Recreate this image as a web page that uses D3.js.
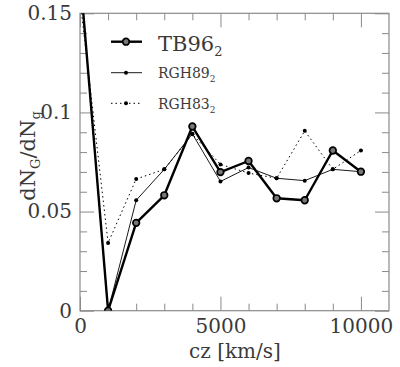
<!DOCTYPE html>
<html>
<head>
<meta charset="utf-8">
<script src="https://cdn.jsdelivr.net/npm/d3@7"></script>
<style>
  body { margin: 0; background: #fff; }
  text { font-family: "DejaVu Serif", serif; }
</style>
</head>
<body>
<div id="vis"></div>
<script>
const width = 400, height = 367;
const margin = {top: 13.3, right: 11, bottom: 56.3, left: 80};

// cz bins [km/s]
const czValues = [0, 1000, 2000, 3000, 4000, 5000, 6000, 7000, 8000, 9000, 10000];
// dN_G/dN_g for each catalogue
const tb96  = [0.17, 0, 0.0443, 0.0582, 0.0929, 0.0699, 0.0755, 0.0567, 0.0557, 0.0808, 0.0701];
const rgh89 = [0.17, 0, 0.0557, 0.0713, 0.0892, 0.0652, 0.0722, 0.0668, 0.0656, 0.0713, 0.0701];
const rgh83 = [0.157, 0.0342, 0.0664, 0.0713, 0.089, 0.0738, 0.0694, 0.0668, 0.0907, 0.0713, 0.0808];
const seriesNames = ["TB96", "RGH89", "RGH83"];
const xMajorTicks = [0, 5000, 10000];
const xMinorTicks = [1000, 2000, 3000, 4000, 6000, 7000, 8000, 9000];
const yMajorTicks = [0, 0.05, 0.1, 0.15];
const yMinorTicks = [0.01, 0.02, 0.03, 0.04, 0.06, 0.07, 0.08, 0.09, 0.11, 0.12, 0.13, 0.14];

const series = [
  {name: seriesNames[0], values: tb96, width: 2.4, dash: null, big: true, fontSize: 21},
  {name: seriesNames[1], values: rgh89, width: 0.9, dash: null, big: false, fontSize: 14},
  {name: seriesNames[2], values: rgh83, width: 1, dash: "1.5,3", big: false, fontSize: 14}
];

const svg = d3.select("#vis").append("svg")
  .attr("width", width).attr("height", height);

const x = d3.scaleLinear().domain([0, 11000]).range([margin.left, width - margin.right]);
const y = d3.scaleLinear().domain([0, 0.15]).range([height - margin.bottom, margin.top]);

const axisColor = "#8a8a8a";
const textColor = "#3a3a3a";

svg.append("defs").append("clipPath").attr("id", "plot-clip")
  .append("rect")
  .attr("x", x(0)).attr("y", y(0.15))
  .attr("width", x(11000) - x(0)).attr("height", y(0) - y(0.15));

// axes (ticks point inward on all four sides)
function styleAxis(g) {
  g.select(".domain").remove();
  g.selectAll(".tick line").attr("stroke", axisColor).attr("stroke-width", 1);
  g.selectAll(".tick text").attr("fill", textColor).style("font-size", "20px");
}

svg.append("g").attr("transform", `translate(0,${y(0)})`)
  .call(d3.axisBottom(x).tickValues(xMajorTicks).tickSize(-14).tickPadding(8).tickFormat(d3.format("d")))
  .call(styleAxis);
svg.append("g").attr("transform", `translate(0,${y(0)})`)
  .call(d3.axisBottom(x).tickValues(xMinorTicks).tickSize(-7).tickFormat(""))
  .call(styleAxis);
svg.append("g").attr("transform", `translate(0,${y(0.15)})`)
  .call(d3.axisTop(x).tickValues(xMajorTicks).tickSize(-14).tickFormat(""))
  .call(styleAxis);
svg.append("g").attr("transform", `translate(0,${y(0.15)})`)
  .call(d3.axisTop(x).tickValues(xMinorTicks).tickSize(-7).tickFormat(""))
  .call(styleAxis);

svg.append("g").attr("transform", `translate(${x(0)},0)`)
  .call(d3.axisLeft(y).tickValues(yMajorTicks).tickSize(-14).tickPadding(8).tickFormat(d => String(d)))
  .call(styleAxis);
svg.append("g").attr("transform", `translate(${x(0)},0)`)
  .call(d3.axisLeft(y).tickValues(yMinorTicks).tickSize(-7).tickFormat(""))
  .call(styleAxis);
svg.append("g").attr("transform", `translate(${x(11000)},0)`)
  .call(d3.axisRight(y).tickValues(yMajorTicks).tickSize(-14).tickFormat(""))
  .call(styleAxis);
svg.append("g").attr("transform", `translate(${x(11000)},0)`)
  .call(d3.axisRight(y).tickValues(yMinorTicks).tickSize(-7).tickFormat(""))
  .call(styleAxis);

svg.append("rect")
  .attr("x", x(0)).attr("y", y(0.15))
  .attr("width", x(11000) - x(0)).attr("height", y(0) - y(0.15))
  .attr("fill", "none").attr("stroke", axisColor).attr("stroke-width", 1.2);

// lines and markers
const plot = svg.append("g").attr("clip-path", "url(#plot-clip)");
const line = d3.line().x((d, i) => x(czValues[i])).y(d => y(d));

function marker(sel, s) {
  sel.attr("r", s.big ? 3.3 : 2)
    .attr("fill", s.big ? "#777" : "#000")
    .attr("stroke", s.big ? "#000" : "none")
    .attr("stroke-width", 1.7);
}

// draw thin ones first so the thick series sits on top
[series[2], series[1], series[0]].forEach(s => {
  plot.append("path")
    .datum(s.values)
    .attr("d", line)
    .attr("fill", "none")
    .attr("stroke", "#000")
    .attr("stroke-width", s.width)
    .attr("stroke-dasharray", s.dash)
    .attr("stroke-linejoin", "round");

  plot.selectAll(null)
    .data(s.values)
    .join("circle")
    .attr("cx", (d, i) => x(czValues[i]))
    .attr("cy", d => y(d))
    .call(marker, s);
});

// legend
const legendRows = [41.7, 72.7, 103.3];
const legend = svg.append("g");
series.forEach((s, i) => {
  const row = legend.append("g").attr("transform", `translate(0,${legendRows[i]})`);
  row.append("line")
    .attr("x1", 111).attr("x2", 142).attr("y1", 0).attr("y2", 0)
    .attr("stroke", "#000").attr("stroke-width", s.width)
    .attr("stroke-dasharray", s.dash);
  row.append("circle")
    .attr("cx", 126).attr("cy", 0)
    .call(marker, s);
  const t = row.append("text")
    .attr("x", 158).attr("y", s.big ? 9.3 : 5.6)
    .attr("fill", textColor)
    .style("font-size", s.fontSize + "px");
  t.append("tspan").text(s.name);
  t.append("tspan").attr("dy", s.big ? 5 : 4)
    .style("font-size", (s.big ? 13 : 9) + "px").text("2");
});

// axis titles
svg.append("text")
  .attr("x", 235).attr("y", 358)
  .attr("text-anchor", "middle")
  .attr("fill", textColor)
  .style("font-size", "20px")
  .text("cz [km/s]");

const yTitle = svg.append("text")
  .attr("transform", "translate(35,156) rotate(-90)")
  .attr("text-anchor", "middle")
  .attr("fill", textColor)
  .style("font-size", "21px");
yTitle.append("tspan").text("dN");
yTitle.append("tspan").attr("dy", 5).style("font-size", "13px").text("G");
yTitle.append("tspan").attr("dy", -5).text("/dN");
yTitle.append("tspan").attr("dy", 5).style("font-size", "13px").text("g");
</script>
</body>
</html>
